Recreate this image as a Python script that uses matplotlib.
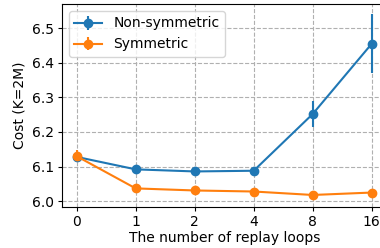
import matplotlib
matplotlib.use("Agg")
import matplotlib.pyplot as plt
import numpy as np

loops = ["0", "1", "2", "4", "8", "16"]
nonsym = [6.128, 6.092, 6.086, 6.088, 6.252, 6.455]
nonsym_err = [0.012, 0.006, 0.005, 0.005, 0.038, 0.085]
sym = [6.130, 6.037, 6.031, 6.028, 6.018, 6.025]
sym_err = [0.018, 0.006, 0.005, 0.005, 0.005, 0.005]

fig, ax = plt.subplots(figsize=(3.8, 2.48), dpi=100)
x = np.arange(len(loops))
ax.errorbar(x, nonsym, yerr=nonsym_err, marker="o", color="#1f77b4", label="Non-symmetric")
ax.errorbar(x, sym, yerr=sym_err, marker="o", color="#ff7f0e", label="Symmetric")
ax.set_xticks(x)
ax.set_xticklabels(loops)
ax.set_ylim(5.983, 6.57)
ax.set_yticks([6.0, 6.1, 6.2, 6.3, 6.4, 6.5])
ax.set_xlim(-0.25, 5.25)
ax.grid(True, linestyle="--", color="#b0b0b0")
ax.set_axisbelow(True)
ax.tick_params(axis="both", length=3, pad=2.5)
ax.set_xlabel("The number of replay loops", labelpad=2)
ax.set_ylabel("Cost (K=2M)", labelpad=4)
ax.legend(loc="upper left")
fig.subplots_adjust(left=0.163, right=1.017, top=0.984, bottom=0.165)
fig.savefig("out.png", dpi=100)
